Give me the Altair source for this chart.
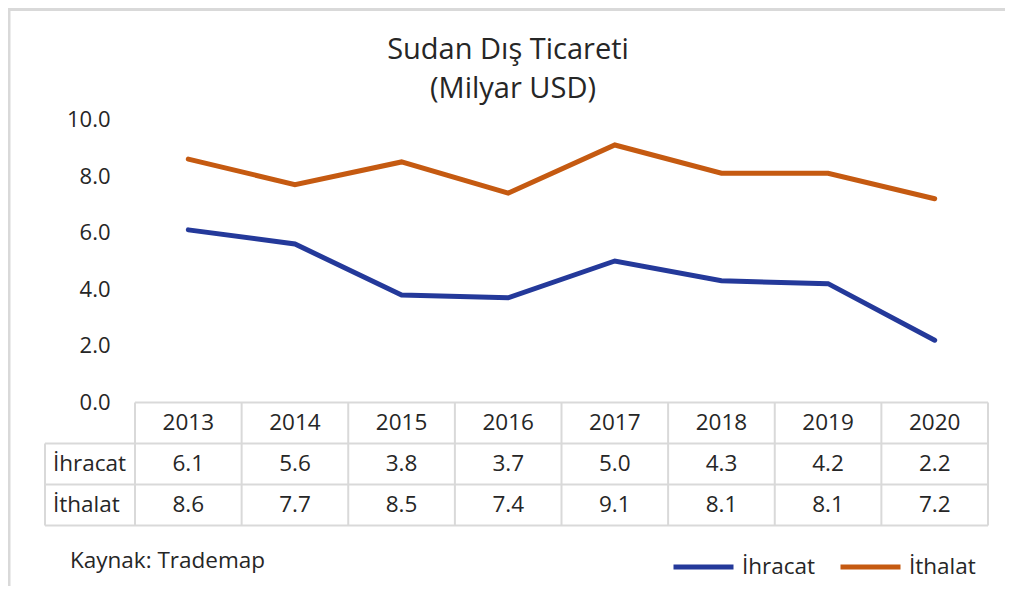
import altair as alt
import pandas as pd

years = ["2013", "2014", "2015", "2016", "2017", "2018", "2019", "2020"]
ihracat = [6.1, 5.6, 3.8, 3.7, 5.0, 4.3, 4.2, 2.2]
ithalat = [8.6, 7.7, 8.5, 7.4, 9.1, 8.1, 8.1, 7.2]
series = ["İhracat", "İthalat"]
colors = ["#24399A", "#C55A11"]
y_ticks = [0, 2, 4, 6, 8, 10]

FONT = "Open Sans"
TXT = "#262626"
GRID = "#D9D9D9"

W, H = 853, 283
PX_PER_UNIT = H / 10.0
ROW_H = 41 / PX_PER_UNIT
COL_W = W / len(years)
XL = -0.5 - 90 / COL_W  # left edge of row-label column

rows = []
for i, y in enumerate(years):
    rows.append({"idx": i, "year": y, "series": series[0], "value": ihracat[i]})
    rows.append({"idx": i, "year": y, "series": series[1], "value": ithalat[i]})
df = pd.DataFrame(rows)

xs = alt.Scale(domain=[-0.5, len(years) - 0.5], nice=False, zero=False)
ys = alt.Scale(domain=[0, 10], nice=False, zero=True)

lines = alt.Chart(df).mark_line(strokeWidth=5, strokeCap="round", clip=False).encode(
    x=alt.X("idx:Q", scale=xs, axis=None),
    y=alt.Y("value:Q", scale=ys, axis=alt.Axis(values=y_ticks, format=".1f", domain=False,
                                                ticks=False, grid=False, labelFontSize=22,
                                                labelFont=FONT, labelColor=TXT, labelPadding=25,
                                                title=None)),
    color=alt.Color("series:N", scale=alt.Scale(domain=series, range=colors),
                    legend=alt.Legend(title=None, orient="none", legendX=536, legendY=415,
                                      direction="horizontal", symbolType="stroke",
                                      symbolSize=3600, symbolStrokeWidth=5,
                                      labelFontSize=22.5, labelFont=FONT, labelColor=TXT,
                                      labelOffset=6, columnPadding=14)),
)

tcells = []
for i, y in enumerate(years):
    tcells.append({"idx": i, "yy": -0.5 * ROW_H, "txt": y})
    tcells.append({"idx": i, "yy": -1.5 * ROW_H, "txt": f"{ihracat[i]:.1f}"})
    tcells.append({"idx": i, "yy": -2.5 * ROW_H, "txt": f"{ithalat[i]:.1f}"})
tdf = pd.DataFrame(tcells)
table_text = alt.Chart(tdf).mark_text(fontSize=22.5, font=FONT, color=TXT, baseline="middle",
                                      align="center", clip=False).encode(
    x=alt.X("idx:Q", scale=xs, axis=None), y=alt.Y("yy:Q", scale=ys), text="txt:N")

ldf = pd.DataFrame({"yy": [-1.5 * ROW_H, -2.5 * ROW_H], "txt": series})
label_text = alt.Chart(ldf).mark_text(fontSize=22.5, font=FONT, color=TXT, baseline="middle",
                                      align="left", clip=False).encode(
    x=alt.value(-82), y=alt.Y("yy:Q", scale=ys), text="txt:N")

hl = [{"x": -0.5, "x2": len(years) - 0.5, "y": 0.0}]
for r in range(1, 4):
    hl.append({"x": XL, "x2": len(years) - 0.5, "y": -r * ROW_H})
vl = [{"x": XL, "y": -ROW_H, "y2": -3 * ROW_H}]
for k in range(len(years) + 1):
    vl.append({"x": -0.5 + k, "y": 0.0, "y2": -3 * ROW_H})
hrules = alt.Chart(pd.DataFrame(hl)).mark_rule(color=GRID, strokeWidth=2, clip=False).encode(
    x=alt.X("x:Q", scale=xs, axis=None), x2="x2:Q", y=alt.Y("y:Q", scale=ys))
vrules = alt.Chart(pd.DataFrame(vl)).mark_rule(color=GRID, strokeWidth=2, clip=False).encode(
    x=alt.X("x:Q", scale=xs, axis=None), y=alt.Y("y:Q", scale=ys), y2="y2:Q")

title_df = pd.DataFrame({"t": ["Sudan Dış Ticareti"], "s": ["(Milyar USD)"], "k": ["Kaynak: Trademap"]})
title1 = alt.Chart(title_df).mark_text(fontSize=29, font=FONT, color=TXT, align="center",
                                       baseline="alphabetic").encode(
    x=alt.value(373), y=alt.value(-61), text="t:N")
title2 = alt.Chart(title_df).mark_text(fontSize=29, font=FONT, color=TXT, align="center",
                                       baseline="alphabetic").encode(
    x=alt.value(378), y=alt.value(-22), text="s:N")
source = alt.Chart(title_df).mark_text(fontSize=22.5, font=FONT, color=TXT, align="left",
                                       baseline="middle").encode(
    x=alt.value(-65), y=alt.value(441), text="k:N")

frame_left = alt.Chart(title_df).mark_rule(color=GRID, strokeWidth=3).encode(
    x=alt.value(-126), y=alt.value(-112), y2=alt.value(480))
frame_top = alt.Chart(title_df).mark_rule(color=GRID, strokeWidth=3).encode(
    x=alt.value(-126), x2=alt.value(880), y=alt.value(-110))

chart = alt.layer(
    lines, hrules, vrules, table_text, label_text, title1, title2, source, frame_left, frame_top
).properties(
    width=W, height=H,
    autosize=alt.AutoSizeParams(type="none"),
    padding={"left": 127, "top": 111.5, "right": 17, "bottom": 183},
).configure_view(stroke=None)

chart.save("out.html", embed_options={"renderer": "svg", "actions": False})
